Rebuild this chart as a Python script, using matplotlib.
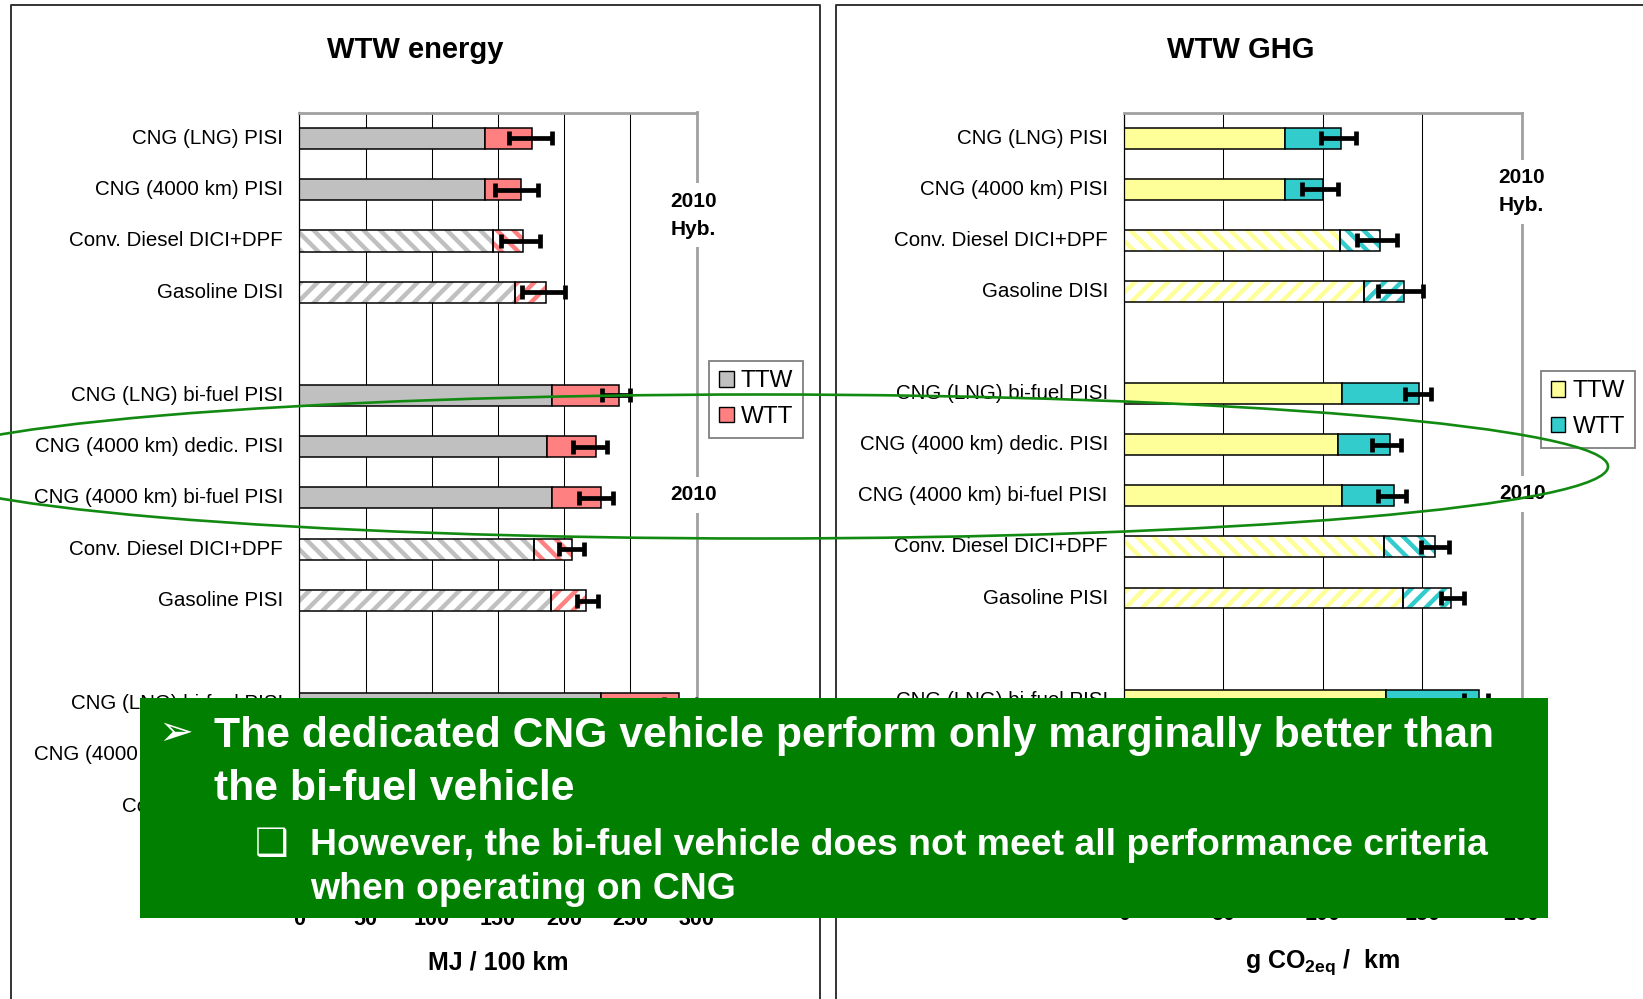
import matplotlib
matplotlib.use("Agg")
import matplotlib.pyplot as plt
from matplotlib.patches import Patch, Rectangle, Ellipse
from matplotlib.lines import Line2D
import numpy as np

plt.rcParams['font.family'] = ['Liberation Sans', 'DejaVu Sans']
plt.rcParams['mathtext.fontset'] = 'custom'
plt.rcParams['mathtext.rm'] = 'Liberation Sans:bold'
plt.rcParams['mathtext.bf'] = 'Liberation Sans:bold'
plt.rcParams['hatch.linewidth'] = 3.2

# ---------------- data ----------------
categories = ["CNG (LNG) PISI", "CNG (4000 km) PISI", "Conv. Diesel DICI+DPF", "Gasoline DISI",
              "CNG (LNG) bi-fuel PISI", "CNG (4000 km) dedic. PISI", "CNG (4000 km) bi-fuel PISI",
              "Conv. Diesel DICI+DPF", "Gasoline PISI",
              "CNG (LNG) bi-fuel PISI", "CNG (4000 km) bi-fuel PISI", "Conv. Diesel DICI", "Gasoline PISI"]
slots = [0, 1, 2, 3, 5, 6, 7, 8, 9, 11, 12, 13, 14]
hatches = [None, None, '\\\\', '//', None, None, None, '\\\\', '//', None, None, '\\\\', '//']

energy_ttw = [140, 140, 146, 163, 191, 187, 191, 177, 190, 228, 228, 205, 235]
energy_wtt = [36, 27, 23, 23, 50, 37, 36.5, 29, 26.5, 59, 52, 35, 35]
energy_err_lo = [158.6, 147.8, 152, 168, 228.4, 206.5, 211.3, 196.4, 209.5, 275, 268, 228, 258]
energy_err_hi = [190.6, 180, 181.8, 200.7, 249.8, 232.2, 236.7, 215, 225.8, 300, 292, 252, 282]

ghg_ttw = [80.8, 80.8, 108.5, 120.7, 109.4, 107.6, 109.4, 131, 140.1, 131.9, 132, 150, 160]
ghg_wtt = [28.5, 19.5, 20.3, 20.1, 38.9, 26, 26.6, 25.4, 24.3, 46.4, 33, 20, 20]
ghg_err_lo = [99.3, 89.7, 117.4, 127.6, 141.5, 124.7, 127.8, 149.5, 159.3, 170.9, 158, 163, 174]
ghg_err_hi = [116.5, 107.8, 137.5, 150.6, 154.3, 139.2, 141.8, 163.4, 170.9, 182.9, 172, 177, 186]

series_labels = ["TTW", "WTT"]
energy_colors = ["#c0c0c0", "#ff8080"]
ghg_colors = ["#ffff99", "#33cccc"]
energy_ticks = [0, 50, 100, 150, 200, 250, 300]
ghg_ticks = [0, 50, 100, 150, 200]

W, H = 1643, 999
fig = plt.figure(figsize=(W / 100, H / 100), dpi=100)


def frac(x0, y0, x1, y1):
    return [x0 / W, 1 - y1 / H, (x1 - x0) / W, (y1 - y0) / H]


def draw(ax, ttw, wtt, lo, hi, colors, ticks, ybottom, xpad, group_labels):
    y = np.array(slots, dtype=float)
    ttw = np.array(ttw, dtype=float)
    wtt = np.array(wtt, dtype=float)
    tot = ttw + wtt
    h = 0.41
    for i in range(len(y)):
        if hatches[i]:
            ax.barh(y[i], ttw[i], height=h, color='white', edgecolor=colors[0],
                    hatch=hatches[i], linewidth=0, zorder=2)
            ax.barh(y[i], wtt[i], left=ttw[i], height=h, color='white', edgecolor=colors[1],
                    hatch=hatches[i], linewidth=0, zorder=2)
            ax.barh(y[i], ttw[i], height=h, fill=False, edgecolor='black', linewidth=1.1, zorder=2.2)
            ax.barh(y[i], wtt[i], left=ttw[i], height=h, fill=False, edgecolor='black',
                    linewidth=1.1, zorder=2.2)
        else:
            ax.barh(y[i], ttw[i], height=h, color=colors[0], edgecolor='black', linewidth=1.1, zorder=2)
            ax.barh(y[i], wtt[i], left=ttw[i], height=h, color=colors[1], edgecolor='black',
                    linewidth=1.1, zorder=2)
    xerr = [tot - np.array(lo), np.array(hi) - tot]
    ax.errorbar(tot, y, xerr=xerr, fmt='none', ecolor='black', elinewidth=3.4,
                capsize=4.8, capthick=3.4, zorder=4)
    ax.set_xlim(ticks[0], ticks[-1])
    ax.set_ylim(ybottom, -0.5)
    ax.set_xticks(ticks)
    ax.set_xticklabels([str(t) for t in ticks], fontsize=15.5, fontweight='bold')
    ax.set_yticks(y)
    ax.set_yticklabels(categories, fontsize=14.8, va='center')
    ax.tick_params(axis='y', length=0, pad=11.7)
    ax.tick_params(axis='x', length=0, pad=xpad)
    ax.set_axisbelow(True)
    ax.grid(axis='x', color='black', linewidth=0.75)
    ax.spines['bottom'].set_visible(False)
    ax.spines['left'].set_color('black')
    ax.spines['left'].set_linewidth(0.9)
    for s in ('top', 'right'):
        ax.spines[s].set_color('#a0a0a0')
        ax.spines[s].set_linewidth(2)
    for (txt, yy, dx) in group_labels:
        ax.text(1.0 + dx, yy, txt, transform=ax.get_yaxis_transform(), ha='center', va='center',
                fontsize=15, fontweight='bold', linespacing=1.62, zorder=5,
                bbox=dict(boxstyle='square,pad=0.4', fc='white', ec='none'))


axL = fig.add_axes(frac(299.3, 112.5, 696.7, 905))
axR = fig.add_axes(frac(1124, 112.5, 1521.7, 898.5))

draw(axL, energy_ttw, energy_wtt, energy_err_lo, energy_err_hi, energy_colors, energy_ticks, 14.92,
     3.0, [("2010\nHyb.", 1.5, -0.009), ("2010", 6.94, -0.009)])
draw(axR, ghg_ttw, ghg_wtt, ghg_err_lo, ghg_err_hi, ghg_colors, ghg_ticks, 14.88,
     4.0, [("2010\nHyb.", 1.05, 0.0), ("2010", 6.96, 0.003)])

for ax, colors, anchor in ((axL, energy_colors, (709.4, 360.7)), (axR, ghg_colors, (1541, 370.7))):
    handles = [Patch(facecolor=c, edgecolor='black', linewidth=1.0) for c in colors]
    leg = ax.legend(handles, series_labels, loc='upper left',
                    bbox_to_anchor=(anchor[0] / W, 1 - anchor[1] / H), bbox_transform=fig.transFigure,
                    borderaxespad=0, fontsize=17.5, handlelength=0.6, handleheight=0.6,
                    handletextpad=0.3, borderpad=0.4, labelspacing=0.55, fancybox=False,
                    framealpha=1, edgecolor='#808080')
    leg.get_frame().set_linewidth(1.3)
    leg.set_zorder(6)

# ---------------- overlay (slide decorations) ----------------
ov = fig.add_axes([0, 0, 1, 1], zorder=10)
ov.set_xlim(0, W)
ov.set_ylim(H, 0)
ov.set_axis_off()

frame_c = '#333333'
ov.add_line(Line2D([11, 11, 820, 820], [H, 5, 5, H], color=frame_c, lw=1.4, zorder=1))
ov.add_line(Line2D([836, 836, W], [H, 5, 5], color=frame_c, lw=1.4, zorder=1))

ov.text(415.5, 57.5, "WTW energy", ha='center', va='baseline', fontsize=21, fontweight='bold')
ov.text(1241, 57.5, "WTW GHG", ha='center', va='baseline', fontsize=21, fontweight='bold')
ov.text(498, 970, "MJ / 100 km", ha='center', va='baseline', fontsize=18, fontweight='bold')
ov.text(1323, 968, r"g CO$_{\mathbf{2eq}}$ /  km", ha='center', va='baseline', fontsize=18,
        fontweight='bold')

ov.add_patch(Ellipse((760, 466.5), 1696, 144, fill=False, edgecolor='#128a12', linewidth=1.9,
                     zorder=3))

ov.add_patch(Rectangle((140, 698.3), 1547.7 - 140, 917.7 - 698.3, facecolor='#007f00',
                       edgecolor='none', zorder=5))
ov.text(175.5, 733, "\u27a2", ha='center', va='center', fontsize=30, color='white',
        family=['DejaVu Sans'], zorder=6)
ov.text(214, 746.7, "The dedicated CNG vehicle perform only marginally better than",
        ha='left', va='baseline', fontsize=30.7, fontweight='bold', color='white', zorder=6)
ov.text(214, 800, "the bi-fuel vehicle", ha='left', va='baseline', fontsize=30.7,
        fontweight='bold', color='white', zorder=6)
ov.text(271.5, 845, "\u2751", ha='center', va='center', fontsize=27, color='white',
        family=['DejaVu Sans'], zorder=6)
ov.text(310.5, 854.6, "However, the bi-fuel vehicle does not meet all performance criteria",
        ha='left', va='baseline', fontsize=26.9, fontweight='bold', color='white', zorder=6)
ov.text(310.5, 899, "when operating on CNG", ha='left', va='baseline', fontsize=26.9,
        fontweight='bold', color='white', zorder=6)

fig.savefig("out.png", dpi=100)
